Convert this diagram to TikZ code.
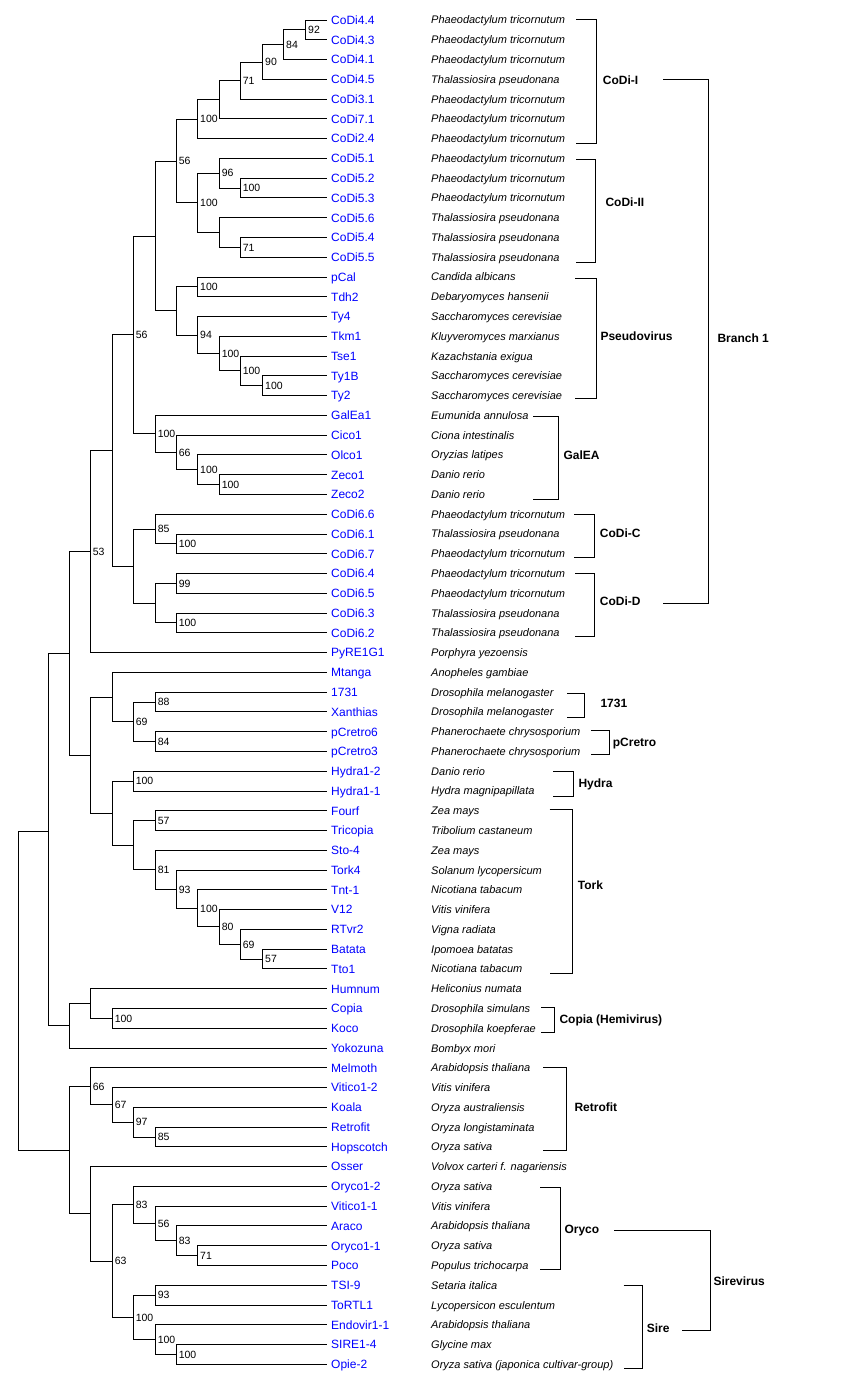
\documentclass[tikz,border=0pt]{standalone}
\usepackage{fontspec}
\setmainfont{Liberation Sans}
\usetikzlibrary{calc}
\definecolor{leafblue}{RGB}{0,0,255}
\newcommand\inode[5]{%
  \path let \p1=($(#3)!0.5!(#4)$) in coordinate (#1) at (#2,\y1);
  \draw[br] (#1) |- (#3);
  \draw[br] (#1) |- (#4);
  \if\relax\detokenize{#5}\relax\else
    \node[boot] (#1lab) at ([xshift=2.3pt]#1) {#5};
  \fi}
\newcommand\brk[4]{\draw[br] (#1,#3) -- (#2,#3) -- (#2,#4) -- (#1,#4);}
\begin{document}
\begin{tikzpicture}[x=1pt,y=-1pt,
  br/.style={line width=1pt},
  leaf/.style={anchor=west,inner xsep=4pt,inner ysep=0pt,text=leafblue,font=\fontsize{12}{14}\selectfont,text height=8.6pt,text depth=0pt},
  spc/.style={anchor=west,inner sep=0pt,font=\fontsize{11}{13}\selectfont\itshape,text height=7.9pt,text depth=0pt},
  boot/.style={anchor=west,inner sep=0pt,font=\fontsize{10.5}{12}\selectfont,text height=7.5pt,text depth=0pt},
  grp/.style={anchor=west,inner sep=0pt,font=\fontsize{12}{14}\selectfont\bfseries,text height=8.6pt,text depth=0pt}]
\useasboundingbox[fill=white] (0,0) rectangle (852,1392);

\foreach \n/\s [count=\i] in {
CoDi4.4/Phaeodactylum tricornutum,
CoDi4.3/Phaeodactylum tricornutum,
CoDi4.1/Phaeodactylum tricornutum,
CoDi4.5/Thalassiosira pseudonana,
CoDi3.1/Phaeodactylum tricornutum,
CoDi7.1/Phaeodactylum tricornutum,
CoDi2.4/Phaeodactylum tricornutum,
CoDi5.1/Phaeodactylum tricornutum,
CoDi5.2/Phaeodactylum tricornutum,
CoDi5.3/Phaeodactylum tricornutum,
CoDi5.6/Thalassiosira pseudonana,
CoDi5.4/Thalassiosira pseudonana,
CoDi5.5/Thalassiosira pseudonana,
pCal/Candida albicans,
Tdh2/Debaryomyces hansenii,
Ty4/Saccharomyces cerevisiae,
Tkm1/Kluyveromyces marxianus,
Tse1/Kazachstania exigua,
Ty1B/Saccharomyces cerevisiae,
Ty2/Saccharomyces cerevisiae,
GalEa1/Eumunida annulosa,
Cico1/Ciona intestinalis,
Olco1/Oryzias latipes,
Zeco1/Danio rerio,
Zeco2/Danio rerio,
CoDi6.6/Phaeodactylum tricornutum,
CoDi6.1/Thalassiosira pseudonana,
CoDi6.7/Phaeodactylum tricornutum,
CoDi6.4/Phaeodactylum tricornutum,
CoDi6.5/Phaeodactylum tricornutum,
CoDi6.3/Thalassiosira pseudonana,
CoDi6.2/Thalassiosira pseudonana,
PyRE1G1/Porphyra yezoensis,
Mtanga/Anopheles gambiae,
1731/Drosophila melanogaster,
Xanthias/Drosophila melanogaster,
pCretro6/Phanerochaete chrysosporium,
pCretro3/Phanerochaete chrysosporium,
Hydra1-2/Danio rerio,
Hydra1-1/Hydra magnipapillata,
Fourf/Zea mays,
Tricopia/Tribolium castaneum,
Sto-4/Zea mays,
Tork4/Solanum lycopersicum,
Tnt-1/Nicotiana tabacum,
V12/Vitis vinifera,
RTvr2/Vigna radiata,
Batata/Ipomoea batatas,
Tto1/Nicotiana tabacum,
Humnum/Heliconius numata,
Copia/Drosophila simulans,
Koco/Drosophila koepferae,
Yokozuna/Bombyx mori,
Melmoth/Arabidopsis thaliana,
Vitico1-2/Vitis vinifera,
Koala/Oryza australiensis,
Retrofit/Oryza longistaminata,
Hopscotch/Oryza sativa,
Osser/Volvox carteri f. nagariensis,
Oryco1-2/Oryza sativa,
Vitico1-1/Vitis vinifera,
Araco/Arabidopsis thaliana,
Oryco1-1/Oryza sativa,
Poco/Populus trichocarpa,
TSI-9/Setaria italica,
ToRTL1/Lycopersicon esculentum,
Endovir1-1/Arabidopsis thaliana,
SIRE1-4/Glycine max,
Opie-2/Oryza sativa (japonica cultivar-group)}{
  \pgfmathsetmacro\yy{20+(\i-1)*19.77}
  \node[leaf] (l\i) at (327,\yy) {\n};
  \node[spc] (sp\i) at (431,\yy) {\s};
}

% CoDi-I
\inode{a1}{305.7}{l1.west}{l2.west}{92}
\inode{a2}{283.7}{a1}{l3.west}{84}
\inode{a3}{262.7}{a2}{l4.west}{90}
\inode{a4}{240.3}{a3}{l5.west}{71}
\inode{a5}{219.3}{a4}{l6.west}{}
\inode{a6}{197.7}{a5}{l7.west}{100}
% CoDi-II
\inode{b1}{240.3}{l9.west}{l10.west}{100}
\inode{b2}{219.3}{l8.west}{b1}{96}
\inode{b3}{240.3}{l12.west}{l13.west}{71}
\inode{b4}{219.3}{l11.west}{b3}{}
\inode{b5}{197.7}{b2}{b4}{100}
\inode{c1}{176.3}{a6}{b5}{56}
% Pseudovirus
\inode{d1}{197.7}{l14.west}{l15.west}{100}
\inode{d2}{262.7}{l19.west}{l20.west}{100}
\inode{d3}{240.3}{l18.west}{d2}{100}
\inode{d4}{219.3}{l17.west}{d3}{100}
\inode{d5}{197.7}{l16.west}{d4}{94}
\inode{d6}{176.3}{d1}{d5}{}
\inode{e1}{155.3}{c1}{d6}{}
% GalEA
\inode{g1}{219.3}{l24.west}{l25.west}{100}
\inode{g2}{197.7}{l23.west}{g1}{100}
\inode{g3}{176.3}{l22.west}{g2}{66}
\inode{g4}{155.3}{l21.west}{g3}{100}
\inode{f1}{133.3}{e1}{g4}{56}
% CoDi-C / CoDi-D
\inode{h1}{176.3}{l27.west}{l28.west}{100}
\inode{h2}{155.3}{l26.west}{h1}{85}
\inode{h3}{176.3}{l29.west}{l30.west}{99}
\inode{h4}{176.3}{l31.west}{l32.west}{100}
\inode{h5}{155.3}{h3}{h4}{}
\inode{h6}{133.3}{h2}{h5}{}
\inode{i1}{112.3}{f1}{h6}{}
\inode{i2}{90.3}{i1}{l33.west}{53}
% 1731 / pCretro
\inode{j1}{155.3}{l35.west}{l36.west}{88}
\inode{j2}{155.3}{l37.west}{l38.west}{84}
\inode{j3}{133.3}{j1}{j2}{69}
\inode{j4}{112.3}{l34.west}{j3}{}
% Hydra / Tork
\inode{k1}{133.3}{l39.west}{l40.west}{100}
\inode{k2}{155.3}{l41.west}{l42.west}{57}
\inode{t1}{262.7}{l48.west}{l49.west}{57}
\inode{t2}{240.3}{l47.west}{t1}{69}
\inode{t3}{219.3}{l46.west}{t2}{80}
\inode{t4}{197.7}{l45.west}{t3}{100}
\inode{t5}{176.3}{l44.west}{t4}{93}
\inode{t6}{155.3}{l43.west}{t5}{81}
\inode{t7}{133.3}{k2}{t6}{}
\inode{k3}{112.3}{k1}{t7}{}
\inode{j5}{90.3}{j4}{k3}{}
\inode{m1}{69.3}{i2}{j5}{}
% Copia
\inode{p1}{112.3}{l51.west}{l52.west}{100}
\inode{p2}{90.3}{l50.west}{p1}{}
\inode{p3}{69.3}{p2}{l53.west}{}
\coordinate (q1) at (48.7,831.7);
\draw[br] (q1) |- (m1);
\draw[br] (q1) |- (p3);
% Retrofit
\inode{r1}{155.3}{l57.west}{l58.west}{85}
\inode{r2}{133.3}{l56.west}{r1}{97}
\inode{r3}{112.3}{l55.west}{r2}{67}
\inode{r4}{90.3}{l54.west}{r3}{66}
% Oryco
\inode{o1}{197.7}{l63.west}{l64.west}{71}
\inode{o2}{176.3}{l62.west}{o1}{83}
\inode{o3}{155.3}{l61.west}{o2}{56}
\inode{o4}{133.3}{l60.west}{o3}{83}
% Sire
\inode{s1}{155.3}{l65.west}{l66.west}{93}
\inode{s2}{176.3}{l68.west}{l69.west}{100}
\inode{s3}{155.3}{l67.west}{s2}{100}
\inode{s4}{133.3}{s1}{s3}{100}
\inode{u1}{112.3}{o4}{s4}{63}
\inode{u2}{90.3}{l59.west}{u1}{}
\inode{v1}{69.3}{r4}{u2}{}
% root
\inode{root}{18.3}{q1}{v1}{}

% group brackets and labels
\brk{576}{596.3}{19.3}{143.3}
\node[grp] (gCoDiI) at (602.7,80) {CoDi-I};
\brk{576}{595.7}{159.3}{262.3}
\node[grp] (gCoDiII) at (605.3,201.7) {CoDi-II};
\brk{575.3}{596.3}{278.3}{398.3}
\node[grp] (gPseudo) at (600.3,335.7) {Pseudovirus};
\brk{533.3}{558.3}{416.7}{499}
\node[grp] (gGalEA) at (563.3,454.7) {GalEA};
\brk{574.3}{594.3}{514.3}{557.3}
\node[grp] (gCoDiC) at (599.7,532.7) {CoDi-C};
\brk{575.3}{594.3}{573.3}{636}
\node[grp] (gCoDiD) at (599.7,600.7) {CoDi-D};
\brk{567}{584.3}{693.3}{717}
\node[grp] (g1731) at (600.3,703.3) {1731};
\brk{591}{609.3}{730.3}{754.3}
\node[grp] (gpCretro) at (612.7,742.3) {pCretro};
\brk{553}{573.3}{771.7}{796}
\node[grp] (gHydra) at (578.3,783.3) {Hydra};
\brk{549.7}{572.3}{809.3}{973.3}
\node[grp] (gTork) at (577.7,885.3) {Tork};
\brk{541}{554.3}{1007.3}{1032.3}
\node[grp] (gCopia) at (559.3,1019.3) {Copia (Hemivirus)};
\brk{543}{566.3}{1067.3}{1150.3}
\node[grp] (gRetrofit) at (574.3,1106.7) {Retrofit};
\brk{540}{560.3}{1187}{1269}
\node[grp] (gOryco) at (564.3,1229.3) {Oryco};
\brk{623.7}{642.3}{1285}{1368.3}
\node[grp] (gSire) at (646.7,1327.7) {Sire};
% higher level brackets
\brk{663.3}{708.3}{79.7}{603.3}
\node[grp] (gBranch) at (717.3,338.3) {Branch 1};
\draw[br] (614,1230) -- (710.3,1230) -- (710.3,1330.3) -- (682.3,1330.3);
\node[grp] (gSirev) at (713.3,1280.7) {Sirevirus};
\end{tikzpicture}
\end{document}
